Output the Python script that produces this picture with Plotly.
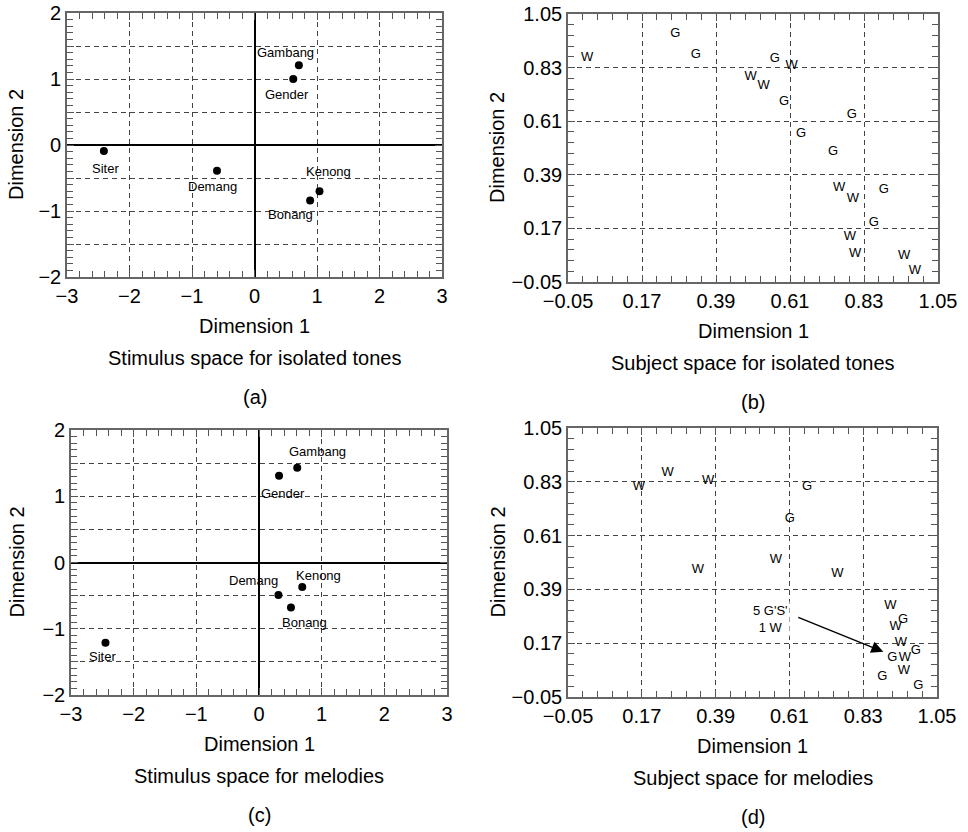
import plotly.graph_objects as go

# ---------------- data ----------------
# (a) stimulus space, isolated tones
instruments = ["Gambang", "Gender", "Siter", "Demang", "Kenong", "Bonang"]
tones_dim1 = [0.71, 0.62, -2.41, -0.60, 1.04, 0.89]
tones_dim2 = [1.21, 1.00, -0.09, -0.39, -0.70, -0.84]

# (c) stimulus space, melodies
melody_dim1 = [0.61, 0.32, -2.45, 0.31, 0.69, 0.51]
melody_dim2 = [1.43, 1.31, -1.21, -0.49, -0.37, -0.68]

# (b) subject space, isolated tones
subj_tones_label = ["W", "G", "G", "G", "W", "W", "W", "G", "G", "G", "G",
                    "W", "W", "G", "G", "W", "W", "W", "W"]
subj_tones_dim1 = [0.007, 0.269, 0.330, 0.565, 0.615, 0.493, 0.532, 0.592, 0.794, 0.643, 0.738,
                   0.756, 0.797, 0.889, 0.859, 0.788, 0.804, 0.949, 0.981]
subj_tones_dim2 = [0.871, 0.968, 0.881, 0.868, 0.838, 0.793, 0.755, 0.689, 0.636, 0.557, 0.486,
                   0.338, 0.290, 0.329, 0.195, 0.137, 0.065, 0.059, -0.004]

# (d) subject space, melodies
subj_mel_label = ["W", "W", "W", "G", "G", "W", "W", "W", "W", "G", "W", "W",
                  "G", "G", "W", "W", "G", "G"]
subj_mel_dim1 = [0.161, 0.247, 0.368, 0.663, 0.611, 0.570, 0.337, 0.753, 0.911, 0.949, 0.927, 0.942,
                 0.987, 0.917, 0.954, 0.951, 0.887, 0.994]
subj_mel_dim2 = [0.811, 0.868, 0.835, 0.808, 0.677, 0.510, 0.469, 0.453, 0.322, 0.267, 0.237, 0.171,
                 0.141, 0.111, 0.111, 0.057, 0.032, -0.002]

# arrow in (d): tail -> head, with its note
note_text = "5 G'S'<br>1 W"
note_pos = [0.555, 0.270]
arrow_tail = [0.632, 0.278]
arrow_head = [0.890, 0.135]

# axis scales
stim_x_range = [-3, 3]
stim_y_range = [-2, 2]
subj_range = [-0.05, 1.05]
subj_step = 0.22

# ---------------- styling ----------------
W, H = 968, 832
FONT = "Liberation Sans, Arial, Helvetica, sans-serif"
FRAME = "#666666"
TICK = "#555555"
GRID = "#444444"


def dom_x(a, b):
    return [a / W, b / W]


def dom_y(top, bottom):
    return [1 - bottom / H, 1 - top / H]


def axis(domain, anchor, rng, dtick, minor_dtick, zero, tickformat=None, alias=None):
    d = dict(
        domain=domain, anchor=anchor, range=rng, autorange=False, automargin=False,
        tickmode="linear", tick0=rng[0], dtick=dtick,
        ticks="inside", ticklen=7, tickwidth=1, tickcolor=TICK,
        showline=True, linecolor=FRAME, linewidth=1.6, mirror="ticks",
        showgrid=True, gridcolor=GRID, gridwidth=1, griddash="5px,4px",
        zeroline=zero, zerolinecolor="black", zerolinewidth=1.5,
        tickfont=dict(family=FONT, size=20, color="black"),
        minor=dict(tick0=rng[0], dtick=minor_dtick, ticks="inside",
                   ticklen=6, tickwidth=1.2, tickcolor=TICK, showgrid=False),
        fixedrange=True,
    )
    if tickformat:
        d["tickformat"] = tickformat
    if alias:
        d["labelalias"] = alias
    return d


fig = go.Figure()

panels = [
    # name, xaxis, yaxis, xdom px, ydom px
    ("a", "x", "y", (67, 442), (13, 277)),
    ("b", "x2", "y2", (568, 938), (14, 282)),
    ("c", "x3", "y3", (71, 447), (430, 695)),
    ("d", "x4", "y4", (568, 937), (428, 697)),
]

half_alias = {"\u22121.5": "", "\u22120.5": "", "0.5": "", "1.5": ""}

layout_axes = {}
for name, xa, ya, (x0, x1), (y0, y1) in panels:
    xkey = "xaxis" + xa[1:]
    ykey = "yaxis" + ya[1:]
    if name in ("a", "c"):
        layout_axes[xkey] = axis(dom_x(x0, x1), ya, stim_x_range, 1, 0.2, True)
        layout_axes[ykey] = axis(dom_y(y0, y1), xa, stim_y_range, 0.5, 0.1, True,
                                 alias=half_alias)
    else:
        layout_axes[xkey] = axis(dom_x(x0, x1), ya, subj_range, subj_step, subj_step / 5,
                                 False, tickformat=".2f")
        layout_axes[ykey] = axis(dom_y(y0, y1), xa, subj_range, subj_step, subj_step / 5,
                                 False, tickformat=".2f")

# stimulus scatter points
for xs, ys, xa, ya in [(tones_dim1, tones_dim2, "x", "y"), (melody_dim1, melody_dim2, "x3", "y3")]:
    fig.add_trace(go.Scatter(x=xs, y=ys, mode="markers", xaxis=xa, yaxis=ya,
                             marker=dict(color="black", size=8), hoverinfo="skip",
                             cliponaxis=False, showlegend=False))

# subject letters
for lab, xs, ys, xa, ya in [(subj_tones_label, subj_tones_dim1, subj_tones_dim2, "x2", "y2"),
                            (subj_mel_label, subj_mel_dim1, subj_mel_dim2, "x4", "y4")]:
    fig.add_trace(go.Scatter(x=xs, y=ys, mode="text", text=lab, xaxis=xa, yaxis=ya,
                             textposition="middle center",
                             textfont=dict(family=FONT, size=13, color="black"),
                             hoverinfo="skip", cliponaxis=False, showlegend=False))

annotations = []

# instrument labels (pixel offsets relative to each point)
tone_offsets = {"Gambang": (-13, 13), "Gender": (-6, -15), "Siter": (2, -18),
                "Demang": (-5, -16), "Kenong": (9, 20), "Bonang": (-20, -14)}
mel_offsets = {"Gambang": (20, 16), "Gender": (4, -18), "Siter": (-3, -14),
               "Demang": (-25, 14), "Kenong": (16, 12), "Bonang": (14, -15)}
for xs, ys, offs, xa, ya in [(tones_dim1, tones_dim2, tone_offsets, "x", "y"),
                             (melody_dim1, melody_dim2, mel_offsets, "x3", "y3")]:
    for name, xv, yv in zip(instruments, xs, ys):
        dx, dy = offs[name]
        annotations.append(dict(x=xv, y=yv, xref=xa, yref=ya, text=name, showarrow=False,
                                xshift=dx, yshift=dy,
                                font=dict(family=FONT, size=13, color="black")))

# arrow + note in (d)
annotations.append(dict(x=arrow_head[0], y=arrow_head[1], xref="x4", yref="y4",
                        ax=arrow_tail[0], ay=arrow_tail[1], axref="x4", ayref="y4",
                        text="", showarrow=True, arrowhead=2, arrowsize=1.6,
                        arrowwidth=1.5, arrowcolor="black"))
annotations.append(dict(x=note_pos[0], y=note_pos[1], xref="x4", yref="y4", text=note_text,
                        showarrow=False, align="center", bgcolor="white", borderpad=1,
                        font=dict(family=FONT, size=13, color="black")))


# axis titles, captions
def paper_text(px, py, text, size=20, angle=0):
    annotations.append(dict(x=px / W, y=1 - py / H, xref="paper", yref="paper",
                            text=text, showarrow=False, textangle=angle,
                            xanchor="center", yanchor="middle",
                            font=dict(family=FONT, size=size, color="black")))


captions = {
    "a": "Stimulus space for isolated tones",
    "b": "Subject space for isolated tones",
    "c": "Stimulus space for melodies",
    "d": "Subject space for melodies",
}
for name, xa, ya, (x0, x1), (y0, y1) in panels:
    cx = (x0 + x1) / 2
    cy = (y0 + y1) / 2
    ylab_x = 16 if name in ("a", "c") else 497
    paper_text(ylab_x, cy, "Dimension 2", angle=-90)
    paper_text(cx, y1 + 49, "Dimension 1")
    paper_text(cx, y1 + 81, captions[name])
    paper_text(cx, y1 + 120, "(" + name + ")")

fig.update_layout(
    width=W, height=H, autosize=False,
    margin=dict(l=0, r=0, t=0, b=0),
    paper_bgcolor="white", plot_bgcolor="white",
    showlegend=False,
    annotations=annotations,
    font=dict(family=FONT, color="black"),
    **layout_axes,
)

fig.write_html("out.html", config={"displayModeBar": False},
               post_script="document.body.style.margin='0';document.body.style.overflow='hidden';")
